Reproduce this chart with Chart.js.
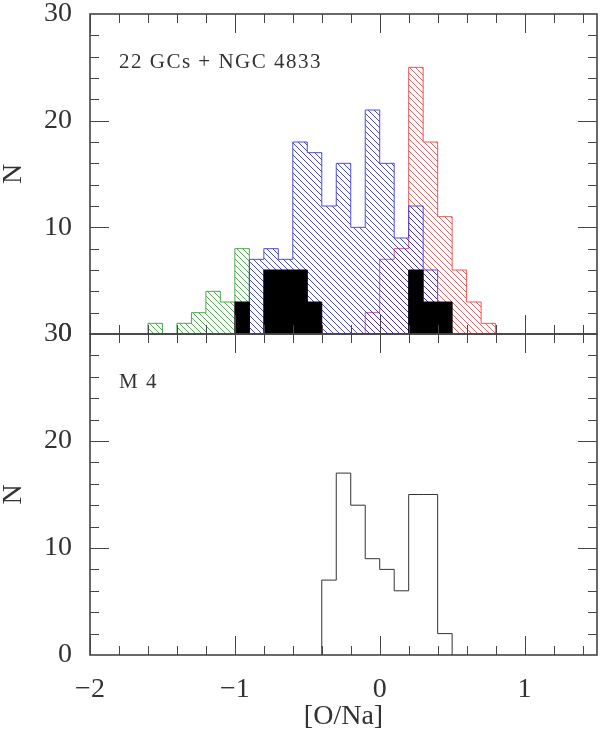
<!DOCTYPE html>
<html>
<head>
<meta charset="utf-8">
<script src="https://cdn.jsdelivr.net/npm/chart.js@4/dist/chart.umd.min.js"></script>
<style>
  body { margin: 0; background: #fff; }
  #wrap { position: relative; width: 600px; height: 736px; }
  canvas { position: absolute; left: 0; top: 0; }
</style>
</head>
<body>
<div id="wrap">
  <canvas id="topChart" width="600" height="348"></canvas>
  <canvas id="m4Chart" width="600" height="736"></canvas>
</div>
<script>
// histogram bins (left edges, width 0.1 dex)
const binWidth = 0.1;
const binLeft = [-1.6, -1.5, -1.4, -1.3, -1.2, -1.1, -1.0, -0.9, -0.8, -0.7, -0.6, -0.5,
                 -0.4, -0.3, -0.2, -0.1, 0.0, 0.1, 0.2, 0.3, 0.4, 0.5, 0.6, 0.7];
const greenCounts = [1, 0, 1, 2, 4, 3, 8, 0, 0, 0, 0, 0, 0, 0, 0, 0, 0, 0, 0, 0, 0, 0, 0, 0];
const blueCounts  = [0, 0, 0, 0, 0, 0, 0, 7, 8, 7, 18, 17, 12, 16, 10, 21, 16, 9, 12, 6, 0, 0, 0, 0];
const redCounts   = [0, 0, 0, 0, 0, 0, 0, 0, 0, 0, 0, 0, 0, 0, 0, 2, 7, 8, 25, 18, 11, 6, 3, 1];
const blackCounts = [0, 0, 0, 0, 0, 0, 3, 0, 6, 6, 6, 3, 0, 0, 0, 0, 0, 0, 6, 3, 3, 0, 0, 0];

const m4BinLeft = [-0.4, -0.3, -0.2, -0.1, 0.0, 0.1, 0.2, 0.3, 0.4];
const m4Counts  = [7, 17, 14, 9, 8, 6, 15, 15, 2];

const xTickLabels = [-2, -1, 0, 1];
const yTickLabels = [0, 10, 20, 30];

const FONT = "'Liberation Serif', 'DejaVu Serif', serif";
const INK = "#333";

// turn bins into a stepped outline (leading/trailing empty bins dropped)
function stepPoints(edges, counts) {
  let first = counts.findIndex(c => c > 0);
  let last = counts.length - 1;
  while (last > first && counts[last] === 0) last--;
  const pts = [{ x: edges[first], y: 0 }];
  for (let i = first; i <= last; i++) pts.push({ x: edges[i], y: counts[i] });
  pts.push({ x: +(edges[last] + binWidth).toFixed(2), y: 0 });
  return pts;
}

// "\\\" hatch fill
function hatch(color) {
  const s = 6;
  const c = document.createElement("canvas");
  c.width = s; c.height = s;
  const g = c.getContext("2d");
  g.strokeStyle = color;
  g.lineWidth = 1;
  g.beginPath();
  g.moveTo(-1, -1); g.lineTo(s + 1, s + 1);
  g.moveTo(s - 1, -1); g.lineTo(s + 1, 1);
  g.moveTo(-1, s - 1); g.lineTo(1, s + 1);
  g.stroke();
  return g.createPattern(c, "repeat");
}

function fmt(v) {
  if (!xTickLabels.includes(v) && !yTickLabels.includes(v)) return "";
  return v < 0 ? "\u2212" + Math.abs(v) : String(v);
}

// box with inward ticks on all four sides
const frameTicks = {
  id: "frameTicks",
  afterDraw(chart) {
    const { ctx, chartArea: a, scales: { x, y } } = chart;
    ctx.save();
    ctx.strokeStyle = "#444";
    ctx.lineWidth = 1;
    ctx.beginPath();
    for (let i = -10; i <= 7; i++) {
      const px = Math.round(x.getPixelForValue(i * 0.2)) + 0.5;
      const len = i % 5 === 0 ? 19 : 9;
      ctx.moveTo(px, a.bottom); ctx.lineTo(px, a.bottom - len);
      ctx.moveTo(px, a.top); ctx.lineTo(px, a.top + len);
    }
    for (let v = 2; v < 30; v += 2) {
      const py = Math.round(y.getPixelForValue(v)) + 0.5;
      const len = v % 10 === 0 ? 19 : 9;
      ctx.moveTo(a.left, py); ctx.lineTo(a.left + len, py);
      ctx.moveTo(a.right, py); ctx.lineTo(a.right - len, py);
    }
    ctx.stroke();
    ctx.lineWidth = 1.6;
    ctx.strokeRect(a.left, a.top, a.right - a.left, a.bottom - a.top);
    ctx.restore();
  }
};

// panel caption in the upper left
const panelLabel = {
  id: "panelLabel",
  afterDraw(chart, args, opts) {
    const { ctx, chartArea: a } = chart;
    ctx.save();
    ctx.font = "21px " + FONT;
    ctx.fillStyle = INK;
    ctx.textBaseline = "middle";
    ctx.letterSpacing = "1.5px";
    ctx.fillText(opts.text, a.left + 29, a.top + 48);
    ctx.restore();
  }
};

// label offset goes through tickLength (grid hidden) so it does not pad the chart area
function axes(xOpts) {
  return {
    x: Object.assign({
      type: "linear", min: -2, max: 1.5,
      grid: { display: false, drawTicks: false },
      border: { display: false }
    }, xOpts),
    y: {
      min: 0, max: 30,
      grid: { display: false, drawTicks: true, tickLength: 18 },
      border: { display: false },
      ticks: { stepSize: 10, padding: 0, color: INK, font: { family: FONT, size: 28, lineHeight: 1 }, callback: fmt },
      title: { display: true, text: "N", color: INK, padding: { top: 0, bottom: 0 }, font: { family: FONT, size: 28, lineHeight: 1 } },
      afterFit: s => { s.width = 90; }
    }
  };
}

function line(points, border, fill) {
  return {
    data: points,
    stepped: true,
    borderColor: border,
    borderWidth: 1,
    backgroundColor: fill,
    fill: fill ? "origin" : false,
    pointRadius: 0
  };
}

Chart.defaults.font.family = FONT;

new Chart(document.getElementById("topChart"), {
  type: "line",
  data: {
    datasets: [
      line(stepPoints(binLeft, blackCounts), "#000", "#000"),
      line(stepPoints(binLeft, blueCounts), "rgba(60,60,215,0.9)", hatch("rgba(40,40,200,0.85)")),
      line(stepPoints(binLeft, redCounts), "rgba(230,70,70,0.9)", hatch("rgba(225,50,50,0.75)")),
      line(stepPoints(binLeft, greenCounts), "rgba(60,160,60,0.9)", hatch("rgba(40,150,40,0.8)"))
    ]
  },
  options: {
    responsive: false,
    animation: false,
    layout: { padding: { top: 14, right: 3, bottom: 14, left: 0 } },
    plugins: { legend: { display: false }, tooltip: { enabled: false }, panelLabel: { text: "22 GCs + NGC 4833" } },
    scales: axes({ ticks: { display: false }, afterFit: s => { s.height = 0; } })
  },
  plugins: [frameTicks, panelLabel]
});

new Chart(document.getElementById("m4Chart"), {
  type: "line",
  data: {
    datasets: [line(stepPoints(m4BinLeft, m4Counts), "#333", null)]
  },
  options: {
    responsive: false,
    animation: false,
    layout: { padding: { top: 334, right: 3, bottom: 0, left: 0 } },
    plugins: { legend: { display: false }, tooltip: { enabled: false }, panelLabel: { text: "M 4" } },
    scales: axes({
      grid: { display: false, drawTicks: true, tickLength: 21 },
      ticks: { stepSize: 1, padding: 0, color: INK, maxRotation: 0, autoSkip: false, font: { family: FONT, size: 28, lineHeight: 1 }, callback: fmt },
      title: { display: true, text: "[O/Na]", color: INK, padding: { top: 0, bottom: 5 }, font: { family: FONT, size: 28, lineHeight: 1 } },
      afterFit: s => { s.height = 81; }
    })
  },
  plugins: [frameTicks, panelLabel]
});
</script>
</body>
</html>
